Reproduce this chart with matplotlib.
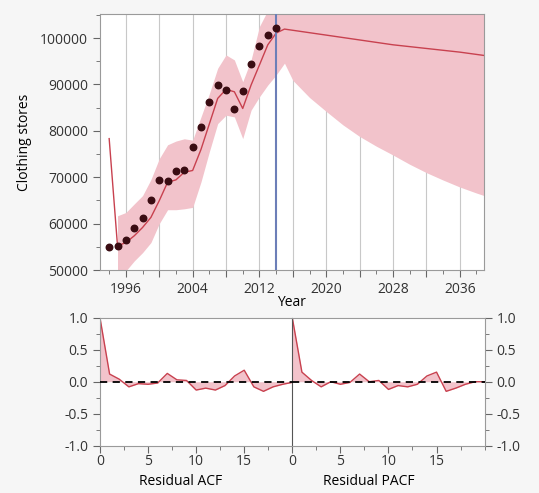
import numpy as np
import matplotlib
matplotlib.use("Agg")
from matplotlib import pyplot as plt
from matplotlib.ticker import MultipleLocator, FixedLocator, FuncFormatter

plt.rcParams['font.family'] = ['Open Sans', 'DejaVu Sans']
plt.rcParams['font.size'] = 10
plt.rcParams['text.color'] = '#333333'
plt.rcParams['xtick.color'] = '#666666'
plt.rcParams['ytick.color'] = '#666666'
plt.rcParams['xtick.labelcolor'] = '#333333'
plt.rcParams['ytick.labelcolor'] = '#333333'

# observed clothing store sales
years = [1994, 1995, 1996, 1997, 1998, 1999, 2000, 2001, 2002, 2003, 2004,
         2005, 2006, 2007, 2008, 2009, 2010, 2011, 2012, 2013, 2014]
actual = [54900, 55270, 56490, 59020, 61110, 65080, 69480, 69260, 71280, 71500, 76480,
          80740, 86150, 89970, 88890, 84780, 88670, 94440, 98340, 100720, 102160]

# one-step fitted values
fitted = [78330, 55200, 55920, 57370, 59170, 61340, 64950, 68920, 69440, 71090, 71460,
          76000, 81500, 87000, 88950, 88430, 84830, 89880, 94200, 98550, 101080]

# in-sample confidence band (from 1995)
band_years = [1995, 1996, 1997, 1998, 1999, 2000, 2001, 2002, 2003, 2004,
              2005, 2006, 2007, 2008, 2009, 2010, 2011, 2012, 2013, 2014]
band_lo = [47000, 49800, 51950, 53750, 55920, 60000, 63000, 63000, 63200, 63500,
           69000, 75500, 81570, 83380, 83010, 78330, 84470, 87340, 89880, 92050]
band_hi = [61700, 62400, 64240, 66040, 69500, 74000, 77000, 77800, 78300, 78000,
           83000, 88000, 93500, 96380, 95300, 90600, 95300, 102500, 106000, 108500]

# forecast
fc_years = [2014, 2015, 2020, 2028, 2036, 2039]
forecast = [101080, 101950, 100650, 98560, 96980, 96240]
fc_band_years = [2014, 2015, 2016, 2018, 2020, 2022, 2024, 2026, 2028, 2030,
                 2032, 2034, 2036, 2038, 2039]
fc_lo = [92050, 94600, 90900, 87200, 84200, 81300, 78800, 76700, 74800, 72800,
         71000, 69400, 67900, 66600, 66000]
fc_hi = [108500, 109300, 111000, 114000, 117000, 119500, 122000, 124000, 126000, 128000,
         130000, 132000, 134000, 136000, 137000]

# residual autocorrelations
lags = list(range(21))
acf = [1.0, 0.12, 0.04, -0.08, -0.03, -0.04, -0.02, 0.13, 0.03, 0.02, -0.13,
       -0.10, -0.13, -0.06, 0.09, 0.18, -0.08, -0.15, -0.08, -0.04, -0.01]
pacf = [1.0, 0.15, 0.02, -0.08, 0.0, -0.04, -0.01, 0.12, 0.0, 0.02, -0.12,
        -0.06, -0.08, -0.04, 0.09, 0.15, -0.15, -0.10, -0.04, 0.0, 0.0]

pink = '#f2c3cb'
red = '#c8414f'
spine = '#9a9a9a'

fig = plt.figure(figsize=(5.39, 4.93), dpi=100, facecolor='#f6f6f6')

ax = fig.add_axes([0.1855, 0.4523, 0.7124, 0.5193])
ax.fill_between(band_years, band_lo, band_hi, color=pink, lw=0)
ax.fill_between(fc_band_years, fc_lo, fc_hi, color=pink, lw=0)
ax.plot(years, fitted, color=red, lw=1)
ax.plot(fc_years, forecast, color=red, lw=1)
ax.scatter(years, actual, s=22, color='#3a0c12', zorder=4)
ax.axvline(2014, color='#6c7fb8', lw=1.5, zorder=3)

ax.set_xlim(1992.9, 2038.9)
ax.set_ylim(50000, 105200)
ax.xaxis.set_major_locator(MultipleLocator(4))
ax.xaxis.set_minor_locator(MultipleLocator(2))
ax.xaxis.set_major_formatter(FuncFormatter(lambda v, p: '%d' % v if int(round(v)) % 8 == 4 else ''))
ax.yaxis.set_major_locator(MultipleLocator(10000))
ax.yaxis.set_minor_locator(MultipleLocator(5000))
ax.grid(axis='x', which='major', color='#c8c8c8', lw=0.8)
ax.set_axisbelow(True)
ax.tick_params(which='major', length=5)
ax.tick_params(which='minor', length=3)
ax.set_xlabel('Year', labelpad=-1)
ax.set_ylabel('Clothing stores', labelpad=6)
for s in ax.spines.values():
    s.set_color(spine)

# residual ACF / PACF panels
ax1 = fig.add_axes([0.1855, 0.0959, 0.3568, 0.2596])
ax2 = fig.add_axes([0.5423, 0.0959, 0.3568, 0.2596])
for a, vals, lab, lx in [(ax1, acf, 'Residual ACF', 0.42), (ax2, pacf, 'Residual PACF', 0.40)]:
    a.fill_between(lags, vals, 0, color=pink, lw=0)
    a.plot(lags, vals, color=red, lw=1)
    a.axhline(0, color='black', lw=1.3, ls=(0, (4, 3)), zorder=3)
    a.set_xlim(0, 20)
    a.set_ylim(-1, 1)
    a.xaxis.set_major_locator(FixedLocator([0, 5, 10, 15]))
    a.xaxis.set_minor_locator(MultipleLocator(2.5))
    a.yaxis.set_major_locator(MultipleLocator(0.5))
    a.yaxis.set_minor_locator(MultipleLocator(0.25))
    a.yaxis.set_major_formatter(FuncFormatter(lambda v, p: '%.1f' % v))
    a.tick_params(which='major', length=5)
    a.tick_params(which='minor', length=3)
    a.tick_params(axis='x', pad=1)
    a.set_xlabel(lab)
    a.xaxis.set_label_coords(lx, -0.22)
    for s in a.spines.values():
        s.set_color(spine)
ax1.spines['right'].set_visible(False)
ax2.spines['left'].set_color('#555555')
ax2.yaxis.tick_right()

fig.savefig('out.png', dpi=100, facecolor=fig.get_facecolor())
